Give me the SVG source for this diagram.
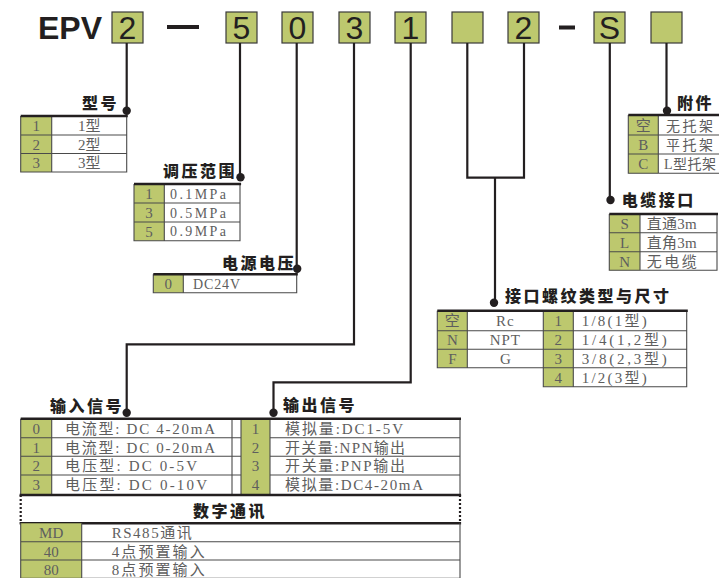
<svg xmlns="http://www.w3.org/2000/svg" width="719" height="578" viewBox="0 0 719 578">
<style>
.bg{fill:#ffffff}
.g{fill:#bdc86e}
.w{fill:#ffffff}
.cell{stroke:#4a4a4a;stroke-width:1.1;fill:none}
.top{stroke:#231f20;stroke-width:2.6;fill:none}
.box{fill:#bdc86e;stroke:#3a3a3a;stroke-width:1.2}
.hd{font-family:"Liberation Sans",Arial,sans-serif;font-size:32px;fill:#231f20}
.lbl{font-family:"Noto Sans CJK SC","Liberation Sans",sans-serif;font-size:16px;font-weight:900;fill:#231f20;letter-spacing:2.5px}
.t{font-family:"Liberation Serif","Noto Sans CJK SC",serif;font-size:15px;fill:#5e5e5e}
.s{font-size:14px}
.tc{text-anchor:middle}
.cn{fill:none;stroke:#231f20;stroke-width:2.2}
.dot{fill:#231f20}
</style>
<rect class="bg" x="0" y="0" width="719" height="578"/>

<g id="header">
<text class="hd" x="38" y="38.5" font-weight="bold">EPV</text>
<rect class="box" x="112" y="12" width="31" height="31"/><text class="hd tc" x="127.5" y="39">2</text>
<rect x="167" y="25" width="32" height="4" fill="#231f20"/>
<rect class="box" x="226" y="12" width="31" height="31"/><text class="hd tc" x="241.5" y="39">5</text>
<rect class="box" x="282" y="12" width="31" height="31"/><text class="hd tc" x="297.5" y="39">0</text>
<rect class="box" x="339" y="12" width="31" height="31"/><text class="hd tc" x="354.5" y="39">3</text>
<rect class="box" x="395" y="12" width="31" height="31"/><text class="hd tc" x="410.5" y="39">1</text>
<rect class="box" x="452" y="12" width="31" height="31"/>
<rect class="box" x="508" y="12" width="31" height="31"/><text class="hd tc" x="523.5" y="39">2</text>
<rect x="559" y="25.5" width="16" height="4" fill="#231f20"/>
<rect class="box" x="594" y="12" width="31" height="31"/><text class="hd tc" x="609.5" y="39">S</text>
<rect class="box" x="651" y="12" width="31" height="31"/>
</g>

<g id="connectors">
<path class="cn" d="M126.7 43V110.7"/>
<path class="cn" d="M240 43V177.3"/>
<path class="cn" d="M296.7 43V268.8"/>
<path class="cn" d="M354 43V344.3H126.7V412.7"/>
<path class="cn" d="M410.7 43V382.3H273.5V412.7"/>
<path class="cn" d="M467.3 43V177.7H524V43"/>
<path class="cn" d="M495 177.7V302.7"/>
<path class="cn" d="M609.8 43V200"/>
<path class="cn" d="M666.5 43V110.7"/>
<circle class="dot" cx="126.7" cy="110.7" r="4.2"/>
<circle class="dot" cx="240.5" cy="177.3" r="4.2"/>
<circle class="dot" cx="297.2" cy="268.8" r="4.2"/>
<circle class="dot" cx="126.7" cy="412.7" r="4.2"/>
<circle class="dot" cx="273.5" cy="412.7" r="4.2"/>
<circle class="dot" cx="494" cy="302.7" r="4.2"/>
<circle class="dot" cx="610.5" cy="200" r="4.2"/>
<circle class="dot" cx="667" cy="110.7" r="4.2"/>
</g>

<g id="model">
<text class="lbl" x="82" y="109">型号</text>
<rect class="g" x="20.7" y="116" width="31" height="56"/>
<path class="cell" d="M20.7 116V172H126.7V116M51.7 116V172M20.7 135H126.7M20.7 153.5H126.7"/>
<path class="top" d="M20.7 116H127.8"/>
<text class="t tc" x="36.2" y="131">1</text><text class="t tc" x="89.2" y="131">1型</text>
<text class="t tc" x="36.2" y="149.5">2</text><text class="t tc" x="89.2" y="149.5">2型</text>
<text class="t tc" x="36.2" y="168">3</text><text class="t tc" x="89.2" y="168">3型</text>
</g>

<g id="pressure">
<text class="lbl" x="163" y="176.5">调压范围</text>
<rect class="g" x="134" y="184" width="30.3" height="56.7"/>
<path class="cell" d="M134 184V240.7H240V184M164.3 184V240.7M134 203H240M134 222H240"/>
<path class="top" d="M134 184H241.1"/>
<text class="t tc" x="149" y="199">1</text><text class="t s" x="170" y="198.5" textLength="56" lengthAdjust="spacing">0.1MPa</text>
<text class="t tc" x="149" y="218">3</text><text class="t s" x="170" y="217.5" textLength="56" lengthAdjust="spacing">0.5MPa</text>
<text class="t tc" x="149" y="236.5">5</text><text class="t s" x="170" y="236" textLength="56" lengthAdjust="spacing">0.9MPa</text>
</g>

<g id="power">
<text class="lbl" x="222" y="268.5">电源电压</text>
<rect class="g" x="153.3" y="274.3" width="30" height="18.4"/>
<path class="cell" d="M153.3 274.3V292.7H296.7V274.3M183.3 274.3V292.7"/>
<path class="top" d="M153.3 274.3H297.8"/>
<text class="t tc" x="168.3" y="289">0</text><text class="t s" x="193" y="288.5" textLength="47" lengthAdjust="spacing">DC24V</text>
</g>

<g id="accessory">
<text class="lbl" x="677" y="108.5">附件</text>
<rect class="g" x="628.3" y="115" width="30" height="58.3"/>
<path class="cell" d="M628.3 115V173.3H725M658.3 115V173.3M628.3 135H725M628.3 154H725"/>
<path class="top" d="M628.3 115H725"/>
<text class="t tc" x="643.3" y="130.5">空</text><text class="t s" x="666" y="130.5" letter-spacing="2.5">无托架</text>
<text class="t tc" x="643.3" y="150">B</text><text class="t s" x="666" y="150" letter-spacing="2.5">平托架</text>
<text class="t tc" x="643.3" y="169">C</text><text class="t s" x="664" y="169" letter-spacing="0.5">L型托架</text>
</g>

<g id="cable">
<text class="lbl" x="621.7" y="205.5">电缆接口</text>
<rect class="g" x="609.3" y="214" width="30.7" height="56.3"/>
<path class="cell" d="M609.3 214V270.3H717V214M640 214V270.3M609.3 232.7H717M609.3 251.7H717"/>
<path class="top" d="M609.3 214H718"/>
<text class="t tc" x="624.7" y="229">S</text><text class="t" x="646.7" y="229" textLength="50" lengthAdjust="spacing">直通3m</text>
<text class="t tc" x="624.7" y="248">L</text><text class="t" x="646.7" y="248" textLength="50" lengthAdjust="spacing">直角3m</text>
<text class="t tc" x="624.7" y="266.5">N</text><text class="t" x="646.7" y="266.5" textLength="50" lengthAdjust="spacing">无电缆</text>
</g>

<g id="thread">
<text class="lbl" x="505" y="301.5" letter-spacing="1.3">接口螺纹类型与尺寸</text>
<rect class="g" x="437.3" y="310.7" width="30" height="57"/>
<rect class="g" x="543.3" y="310.7" width="30" height="76"/>
<path class="cell" d="M437.3 310.7V367.7H543.3M467.3 310.7V367.7M437.3 330.7H686.7M437.3 349.3H686.7M543.3 367.7H686.7M543.3 310.7V386.7H686.7V310.7M573.3 310.7V386.7"/>
<path class="top" d="M437.3 310.7H687.8"/>
<text class="t tc" x="452.3" y="326">空</text><text class="t tc" x="505.3" y="326" letter-spacing="1">Rc</text>
<text class="t tc" x="452.3" y="345">N</text><text class="t tc" x="505.3" y="345" letter-spacing="1">NPT</text>
<text class="t tc" x="452.3" y="363.5">F</text><text class="t tc" x="505.3" y="363.5">G</text>
<text class="t tc" x="558.3" y="326">1</text><text class="t" x="581.7" y="326" textLength="65" lengthAdjust="spacing">1/8(1型)</text>
<text class="t tc" x="558.3" y="345">2</text><text class="t" x="581.7" y="345" textLength="85" lengthAdjust="spacing">1/4(1,2型)</text>
<text class="t tc" x="558.3" y="363.5">3</text><text class="t" x="581.7" y="363.5" textLength="85" lengthAdjust="spacing">3/8(2,3型)</text>
<text class="t tc" x="558.3" y="382.5">4</text><text class="t" x="581.7" y="382.5" textLength="65" lengthAdjust="spacing">1/2(3型)</text>
</g>

<g id="input">
<text class="lbl" x="50" y="411.5">输入信号</text>
<rect class="g" x="20.7" y="418.7" width="31" height="75.8"/>
<path class="cell" d="M20.7 418.7V494.5M51.7 418.7V494.5M232 418.7V494.5M20.7 437.7H460M20.7 456.3H460M20.7 475H460"/>
<text class="t tc" x="36.2" y="434">0</text><text class="t" x="65" y="434" textLength="150" lengthAdjust="spacing">电流型: DC 4-20mA</text>
<text class="t tc" x="36.2" y="452.5">1</text><text class="t" x="65" y="452.5" textLength="150" lengthAdjust="spacing">电流型: DC 0-20mA</text>
<text class="t tc" x="36.2" y="471">2</text><text class="t" x="65" y="471" textLength="132" lengthAdjust="spacing">电压型: DC 0-5V</text>
<text class="t tc" x="36.2" y="490">3</text><text class="t" x="65" y="490" textLength="142" lengthAdjust="spacing">电压型: DC 0-10V</text>
</g>

<g id="output">
<text class="lbl" x="283" y="411">输出信号</text>
<rect class="g" x="241" y="418.7" width="29" height="75.8"/>
<path class="cell" d="M241 418.7V494.5M270 418.7V494.5M460 418.7V494.5"/>
<text class="t tc" x="255.5" y="434">1</text><text class="t" x="285" y="434" textLength="118" lengthAdjust="spacing">模拟量:DC1-5V</text>
<text class="t tc" x="255.5" y="452.5">2</text><text class="t" x="285" y="452.5" textLength="120" lengthAdjust="spacing">开关量:NPN输出</text>
<text class="t tc" x="255.5" y="471">3</text><text class="t" x="285" y="471" textLength="120" lengthAdjust="spacing">开关量:PNP输出</text>
<text class="t tc" x="255.5" y="490">4</text><text class="t" x="285" y="490" textLength="138" lengthAdjust="spacing">模拟量:DC4-20mA</text>
<path class="top" d="M20.7 418.7H461"/>
</g>

<g id="digital">
<path d="M20.7 495V523.3M460 495V523.3" stroke="#231f20" stroke-width="2.2" stroke-dasharray="2 2" fill="none"/>
<path class="top" d="M19.6 495H461.1M19.6 523.3H461.1" stroke-width="2.2"/>
<text class="lbl" x="193" y="516.5">数字通讯</text>
<rect class="g" x="20.7" y="523.3" width="61" height="56"/>
<path class="cell" d="M20.7 523.3V580M81.7 523.3V580M460 523.3V580M20.7 541.7H460M20.7 560H460M20.7 578.4H460"/>
<text class="t tc" x="51.2" y="538">MD</text><text class="t" x="111.7" y="538" textLength="80" lengthAdjust="spacing">RS485通讯</text>
<text class="t tc" x="51.2" y="556.5">40</text><text class="t" x="111.7" y="556.5" textLength="93" lengthAdjust="spacing">4点预置输入</text>
<text class="t tc" x="51.2" y="575">80</text><text class="t" x="111.7" y="575" textLength="93" lengthAdjust="spacing">8点预置输入</text>
</g>
</svg>
